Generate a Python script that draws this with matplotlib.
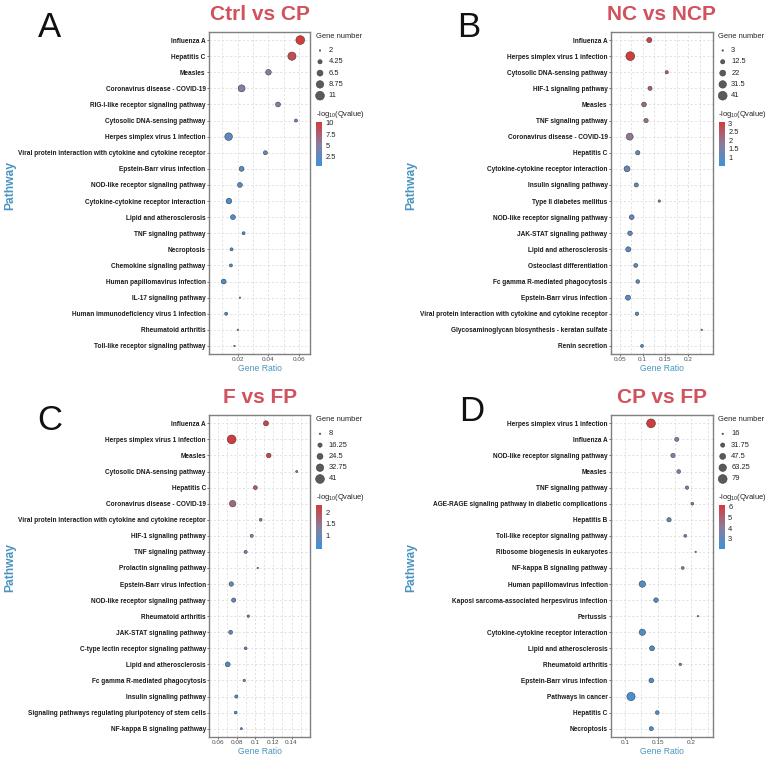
import numpy as np
import matplotlib
matplotlib.use("Agg")
from matplotlib import pyplot as plt
from matplotlib.colors import LinearSegmentedColormap, Normalize
from matplotlib.cm import ScalarMappable

plt.rcParams['font.family'] = ['Liberation Sans', 'DejaVu Sans']
plt.rcParams['mathtext.default'] = 'regular'

# ---- data ----
a_pathways = ["Influenza A", "Hepatitis C", "Measles", "Coronavirus disease - COVID-19",
              "RIG-I-like receptor signaling pathway", "Cytosolic DNA-sensing pathway",
              "Herpes simplex virus 1 infection",
              "Viral protein interaction with cytokine and cytokine receptor",
              "Epstein-Barr virus infection", "NOD-like receptor signaling pathway",
              "Cytokine-cytokine receptor interaction", "Lipid and atherosclerosis",
              "TNF signaling pathway", "Necroptosis", "Chemokine signaling pathway",
              "Human papillomavirus infection", "IL-17 signaling pathway",
              "Human immunodeficiency virus 1 infection", "Rheumatoid arthritis",
              "Toll-like receptor signaling pathway"]
a_ratio = [0.0606, 0.0552, 0.0400, 0.0226, 0.0462, 0.0578, 0.0142, 0.0380, 0.0226, 0.0215,
           0.0144, 0.0170, 0.0239, 0.0161, 0.0157, 0.0110, 0.0215, 0.0126, 0.0202, 0.0180]
a_count = [11, 10, 6, 8, 5, 3, 9, 4, 5, 5, 6, 5, 3, 3, 3, 5, 2, 3, 2, 2]
a_q = [10.15, 9.0, 5.0, 4.6, 4.4, 3.0, 2.2, 2.5, 2.0, 1.8,
       1.3, 1.2, 1.2, 1.0, 0.9, 0.8, 0.8, 0.7, 0.6, 0.53]

b_pathways = ["Influenza A", "Herpes simplex virus 1 infection", "Cytosolic DNA-sensing pathway",
              "HIF-1 signaling pathway", "Measles", "TNF signaling pathway",
              "Coronavirus disease - COVID-19", "Hepatitis C",
              "Cytokine-cytokine receptor interaction", "Insulin signaling pathway",
              "Type II diabetes mellitus", "NOD-like receptor signaling pathway",
              "JAK-STAT signaling pathway", "Lipid and atherosclerosis",
              "Osteoclast differentiation", "Fc gamma R-mediated phagocytosis",
              "Epstein-Barr virus infection",
              "Viral protein interaction with cytokine and cytokine receptor",
              "Glycosaminoglycan biosynthesis - keratan sulfate", "Renin secretion"]
b_ratio = [0.1147, 0.0730, 0.1529, 0.1162, 0.1030, 0.1075, 0.0717, 0.0893, 0.0658, 0.0862,
           0.1366, 0.0761, 0.0724, 0.0686, 0.0849, 0.0893, 0.0680, 0.0877, 0.2296, 0.0987]
b_count = [17, 41, 8, 12, 15, 13, 28, 13, 22, 12, 5, 15, 14, 17, 11, 10, 17, 9, 3, 7]
b_q = [2.9, 3.06, 2.5, 2.4, 2.2, 2.0, 1.9, 1.3, 1.2, 1.1,
       1.4, 1.0, 1.0, 0.95, 0.95, 0.9, 0.85, 0.85, 0.8, 0.5]

c_pathways = ["Influenza A", "Herpes simplex virus 1 infection", "Measles",
              "Cytosolic DNA-sensing pathway", "Hepatitis C", "Coronavirus disease - COVID-19",
              "Viral protein interaction with cytokine and cytokine receptor",
              "HIF-1 signaling pathway", "TNF signaling pathway", "Prolactin signaling pathway",
              "Epstein-Barr virus infection", "NOD-like receptor signaling pathway",
              "Rheumatoid arthritis", "JAK-STAT signaling pathway",
              "C-type lectin receptor signaling pathway", "Lipid and atherosclerosis",
              "Fc gamma R-mediated phagocytosis", "Insulin signaling pathway",
              "Signaling pathways regulating pluripotency of stem cells",
              "NF-kappa B signaling pathway"]
c_ratio = [0.1121, 0.0746, 0.1151, 0.1457, 0.1005, 0.0757, 0.1063, 0.0965, 0.0899, 0.1031,
           0.0742, 0.0768, 0.0928, 0.0735, 0.0899, 0.0703, 0.0884, 0.0797, 0.0790, 0.0852]
c_count = [20, 41, 18, 9, 15, 27, 11, 12, 12, 8, 17, 16, 10, 15, 11, 19, 10, 12, 11, 9]
c_q = [2.2, 2.32, 2.2, 1.8, 1.9, 1.7, 1.3, 1.05, 0.9, 1.0,
       0.8, 0.75, 0.75, 0.7, 0.7, 0.6, 0.65, 0.55, 0.5, 0.38]

d_pathways = ["Herpes simplex virus 1 infection", "Influenza A",
              "NOD-like receptor signaling pathway", "Measles", "TNF signaling pathway",
              "AGE-RAGE signaling pathway in diabetic complications", "Hepatitis B",
              "Toll-like receptor signaling pathway", "Ribosome biogenesis in eukaryotes",
              "NF-kappa B signaling pathway", "Human papillomavirus infection",
              "Kaposi sarcoma-associated herpesvirus infection", "Pertussis",
              "Cytokine-cytokine receptor interaction", "Lipid and atherosclerosis",
              "Rheumatoid arthritis", "Epstein-Barr virus infection", "Pathways in cancer",
              "Hepatitis C", "Necroptosis"]
d_ratio = [0.1395, 0.1782, 0.1726, 0.1812, 0.1937, 0.2017, 0.1666, 0.1911, 0.2067, 0.1872,
           0.1264, 0.1470, 0.2102, 0.1264, 0.1410, 0.1836, 0.1399, 0.1093, 0.1489, 0.1399]
d_count = [79, 30, 32, 28, 25, 22, 32, 22, 16, 22, 52, 34, 16, 50, 38, 20, 36, 72, 28, 30]
d_q = [6.16, 3.8, 3.7, 3.7, 3.6, 3.6, 3.2, 3.3, 3.1, 3.1,
       2.6, 2.5, 2.6, 2.4, 2.4, 2.5, 2.3, 2.2, 2.2, 2.0]

W, H = 767, 758
BLUE_TXT = '#4a94c1'
TITLE_RED = '#d1525c'
cmap = LinearSegmentedColormap.from_list('gr', ['#3d92da', '#8a7e9c', '#d43b3b'])


def fx(px):
    return px / W


def fy(py):
    return 1 - py / H


def size_of(v, vmin, vmax):
    t = (np.asarray(v, float) - vmin) / (vmax - vmin)
    d = 1.5 + 7.3 * t ** 0.7
    return (d * 0.72) ** 2


def draw_panel(fig, ov, box, letter, letter_xy, title, pathways, ratio, count, q,
               xlim, xticks, xminor, cticks, pathway_x):
    x0, y0, x1, y1 = box
    ax = fig.add_axes([fx(x0), fy(y1), fx(x1) - fx(x0), (y1 - y0) / H])
    n = len(pathways)
    yy = np.arange(n)
    norm = Normalize(min(q), max(q))
    cmin, cmax = min(count), max(count)
    ax.scatter(ratio, yy, s=size_of(count, cmin, cmax), c=q, cmap=cmap, norm=norm,
               edgecolors='#333333', linewidths=0.35, zorder=3)
    ax.set_ylim(n - 0.5, -0.5)
    ax.set_xlim(*xlim)
    ax.set_yticks(yy)
    ax.set_yticklabels(pathways, fontsize=4.7, fontweight='bold', color='#1a1a1a')
    ax.set_xticks(xticks)
    ax.set_xticklabels(['%g' % t for t in xticks], fontsize=4.6, color='#4d4d4d')
    ax.set_xticks(xminor, minor=True)
    ax.tick_params(axis='both', which='major', length=1.5, width=0.5, pad=1,
                   color='#333333')
    ax.tick_params(axis='x', which='minor', length=0)
    ax.grid(True, which='both', ls=(0, (3, 3)), color='#d6d6d6', lw=0.5)
    ax.set_axisbelow(True)
    for sp in ax.spines.values():
        sp.set_color('#808080')
        sp.set_linewidth(1.0)

    cx = (x0 + x1) / 2
    fig.text(fx(cx), fy(y1 + 14.5), 'Gene Ratio', fontsize=6.2, color=BLUE_TXT,
             ha='center', va='center')
    fig.text(fx(pathway_x), fy((y0 + y1) / 2 - 8), 'Pathway', fontsize=8.7,
             fontweight='bold', color=BLUE_TXT, rotation=90, ha='center', va='center')
    fig.text(fx(cx), fy(y0 - 12), title, fontsize=15, fontweight='bold',
             color=TITLE_RED, ha='center', va='baseline')
    fig.text(fx(letter_xy[0]), fy(letter_xy[1]), letter, fontsize=25,
             ha='center', va='baseline', color='#111111')

    # size legend
    lx = x1 + 5.5
    fig.text(fx(lx), fy(y0 + 4), 'Gene number', fontsize=5.4, color='#222222',
             ha='left', va='center')
    breaks = np.linspace(cmin, cmax, 5)
    ly = y0 + 18.5 + np.arange(5) * 11.3
    ov.scatter(np.full(5, lx + 4.5), ly, s=size_of(breaks, cmin, cmax),
               color='#5a5a5a', edgecolors='#333333', linewidths=0.35)
    for b, yv in zip(breaks, ly):
        ov.text(lx + 13, yv, '%g' % b, fontsize=5.4, color='#222222',
                ha='left', va='center')

    # colour legend
    fig.text(fx(lx), fy(y0 + 82), r'-log$_{10}$(Qvalue)', fontsize=5.4,
             color='#222222', ha='left', va='center')
    cax = fig.add_axes([fx(lx + 0.5), fy(y0 + 134), 6 / W, 44 / H])
    cb = fig.colorbar(ScalarMappable(norm=norm, cmap=cmap), cax=cax)
    cb.outline.set_visible(False)
    cb.set_ticks(cticks)
    cb.set_ticklabels(['%g' % t for t in cticks])
    cax.tick_params(length=1.5, width=0.5, color='white', labelsize=5.4,
                    labelcolor='#222222', pad=1)
    return ax


fig = plt.figure(figsize=(W / 100, H / 100), dpi=100)
ov = fig.add_axes([0, 0, 1, 1], zorder=5)
ov.set_xlim(0, W)
ov.set_ylim(H, 0)
ov.axis('off')

draw_panel(fig, ov, (209, 32, 310, 354), 'A', (50, 37), 'Ctrl vs CP',
           a_pathways, a_ratio, a_count, a_q, (0.0015, 0.0669),
           [0.02, 0.04, 0.06], [0.01, 0.03, 0.05], [2.5, 5, 7.5, 10], 10)
draw_panel(fig, ov, (611, 32, 712.7, 354), 'B', (469, 37), 'NC vs NCP',
           b_pathways, b_ratio, b_count, b_q, (0.0307, 0.2537),
           [0.05, 0.1, 0.15, 0.2], [0.075, 0.125, 0.175, 0.225], [1, 1.5, 2, 2.5, 3], 411)
draw_panel(fig, ov, (209.3, 415.3, 310, 736.7), 'C', (50, 430), 'F vs FP',
           c_pathways, c_ratio, c_count, c_q, (0.0502, 0.1602),
           [0.06, 0.08, 0.1, 0.12, 0.14], [0.07, 0.09, 0.11, 0.13, 0.15], [1, 1.5, 2], 10)
draw_panel(fig, ov, (611, 415.3, 712.7, 736.7), 'D', (472, 421), 'CP vs FP',
           d_pathways, d_ratio, d_count, d_q, (0.0792, 0.2324),
           [0.1, 0.15, 0.2], [0.125, 0.175, 0.225], [3, 4, 5, 6], 411)

fig.savefig('out.png', dpi=100, facecolor='white')
